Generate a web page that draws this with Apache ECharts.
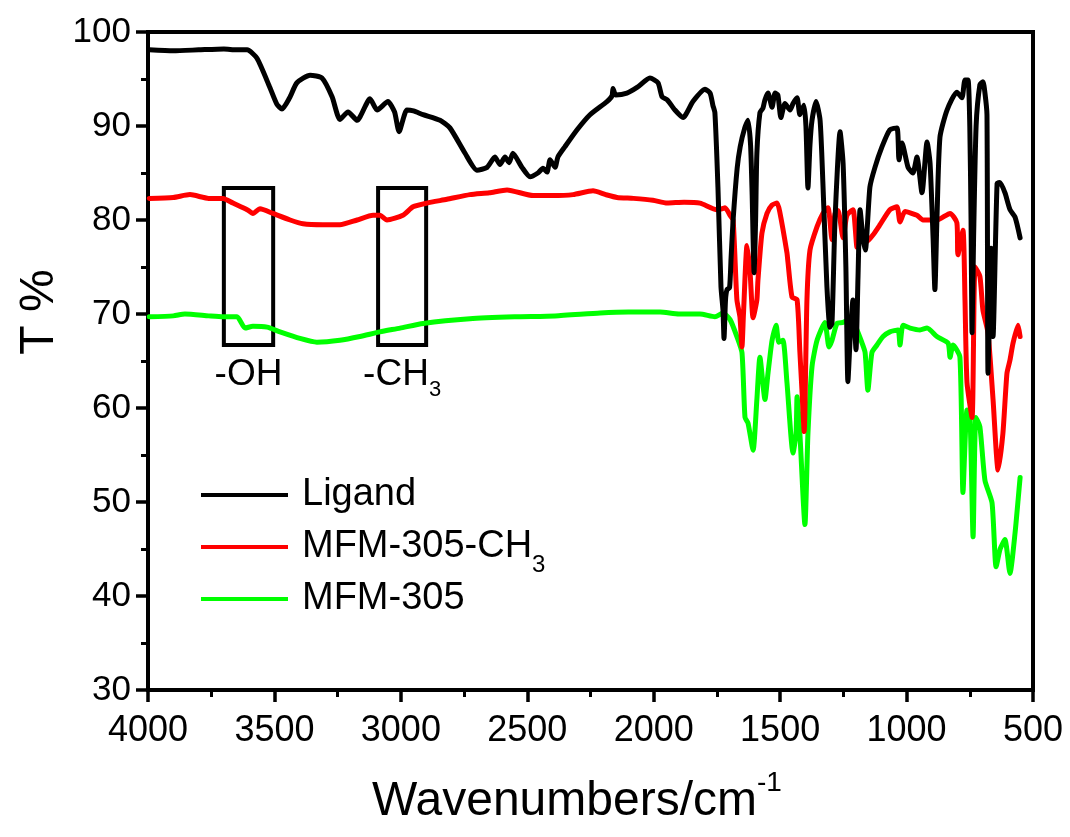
<!DOCTYPE html>
<html><head><meta charset="utf-8">
<script src="https://cdn.jsdelivr.net/npm/echarts@6/dist/echarts.min.js"></script>
<style>html,body{margin:0;padding:0;background:#fff}#c{width:1070px;height:837px}</style>
</head><body><div id="c"></div>
<script>
const seriesNames = ['Ligand', 'MFM-305-CH3', 'MFM-305'];
const ligandWn = [3995,3900,3800,3700,3650,3608,3569,3518,3490,3470,3440,3411,3359,3312,3272,3241,3209,3173,3122,3094,3051,3025,3007,2976,2950,2912,2845,2806,2746,2699,2659,2628,2608,2588,2572,2557,2521,2489,2458,2438,2422,2410,2390,2379,2351,2303,2252,2185,2165,2161,2150,2106,2066,2015,1983,1967,1947,1916,1884,1845,1797,1777,1766,1758,1746,1734,1726,1722,1716,1710,1700,1694,1686,1670,1658,1640,1627,1617,1611,1603,1597,1592,1580,1568,1560,1548,1532,1520,1509,1497,1481,1461,1449,1433,1422,1406,1398,1390,1382,1374,1358,1342,1331,1315,1303,1295,1283,1263,1251,1240,1232,1222,1212,1206,1200,1192,1184,1172,1163,1145,1125,1097,1066,1038,1030,1018,994,975,959,939,919,907,895,888,880,868,840,801,781,769,757,750,745,741,735,725,710,698,690,682,678,670,666,658,642,631,611,591,571,551];
const ligandT = [98.1,98.0,98.1,98.2,98.1,98.1,97.2,94.1,92.3,91.8,93.0,94.6,95.4,95.1,93.1,90.7,91.5,90.6,92.9,91.7,92.6,91.5,89.4,91.7,91.6,91.2,90.6,89.8,87.1,85.3,85.6,86.7,85.9,86.7,86.1,87.1,85.6,84.6,85.0,85.5,85.1,86.4,85.6,86.7,87.8,89.6,91.2,92.6,93.2,94.0,93.3,93.5,94.1,95.1,94.6,93.1,92.8,91.7,90.9,92.6,93.9,93.5,92.2,91.4,83.5,72.9,70.4,67.4,71.5,72.6,72.8,76.0,80.0,85.5,87.8,89.8,90.6,88.0,83.0,74.4,80.0,87.1,91.4,91.9,92.8,93.5,92.0,93.5,93.3,90.9,92.4,91.7,92.4,93.0,91.2,92.2,90.0,83.4,88.0,90.6,92.6,90.6,84.0,72.9,68.6,69.0,80.0,89.4,86.0,75.0,62.8,68.0,71.5,69.0,66.2,74.0,81.1,78.0,76.8,83.5,85.6,87.8,89.6,89.8,86.4,88.2,85.6,85.0,86.7,82.9,88.3,86.0,78.0,72.6,80.0,88.8,91.7,93.6,93.0,94.9,94.9,90.0,80.0,68.0,78.0,90.0,94.4,94.7,93.5,91.2,63.7,72.0,77.0,67.6,83.9,84.0,82.9,81.1,80.3,78.1];
const ch3Wn = [3995,3900,3834,3760,3703,3664,3608,3585,3557,3506,3438,3387,3308,3241,3173,3110,3083,3055,2992,2952,2897,2818,2727,2650,2580,2477,2400,2319,2240,2190,2145,2080,2003,1947,1880,1817,1750,1730,1718,1698,1686,1671,1659,1651,1645,1631,1619,1607,1592,1588,1572,1552,1532,1512,1501,1473,1469,1453,1433,1422,1414,1405,1394,1382,1354,1331,1311,1295,1283,1271,1251,1236,1212,1196,1184,1157,1133,1105,1066,1038,1026,1006,959,935,880,828,801,797,777,769,761,741,729,710,698,678,658,638,619,603,591,579,559,551];
const ch3T = [82.3,82.4,82.7,82.3,82.3,81.8,81.1,80.7,81.2,80.7,80.0,79.6,79.5,79.5,80.0,80.5,80.5,80.0,80.5,81.4,81.8,82.2,82.7,82.9,83.2,82.6,82.6,82.7,83.1,82.7,82.4,82.3,82.1,81.8,81.9,81.8,81.1,81.2,81.3,80.5,80.0,71.5,69.7,66.5,70.0,77.3,74.5,69.6,71.5,73.5,78.6,80.7,81.6,81.8,80.8,76.5,75.5,71.8,71.5,66.0,62.0,57.5,71.5,76.8,79.3,80.7,81.3,77.9,80.7,81.0,78.1,80.5,81.1,77.1,79.3,77.7,78.4,79.5,81.1,81.4,79.8,80.9,80.5,80.0,80.0,80.7,79.7,76.3,78.9,71.5,62.7,59.0,75.0,74.0,70.4,68.0,60.9,53.4,57.3,63.7,65.1,66.9,68.8,67.6];
const mfmWn = [3995,3900,3854,3760,3703,3648,3616,3585,3529,3478,3399,3332,3241,3162,3083,3003,2912,2727,2550,2390,2212,2100,1975,1900,1817,1758,1726,1698,1671,1651,1639,1627,1607,1592,1580,1560,1548,1532,1516,1505,1489,1473,1449,1437,1433,1422,1402,1390,1374,1354,1323,1307,1295,1275,1251,1216,1196,1176,1164,1153,1137,1117,1093,1066,1034,1026,1014,986,947,919,880,836,828,816,789,777,761,749,737,726,710,690,662,646,630,611,591,571,559,551];
const mfmT = [69.7,69.8,70.0,69.8,69.7,69.7,68.5,68.7,68.6,68.1,67.4,67.0,67.2,67.6,68.1,68.5,69.0,69.5,69.7,69.8,70.1,70.2,70.2,70.0,70.0,69.7,70.1,69.4,67.6,65.9,59.0,58.4,55.5,60.9,65.4,60.9,63.7,67.2,68.8,67.0,67.2,62.7,55.2,57.3,61.2,57.3,47.6,57.3,64.4,67.2,69.1,66.5,67.2,69.0,69.1,69.6,68.3,66.9,65.9,61.9,65.9,66.7,67.6,68.1,68.3,66.7,68.8,68.5,68.3,68.5,67.6,66.9,65.4,66.7,65.4,51.0,59.8,59.0,46.3,59.0,58.0,52.3,49.9,43.1,45.0,46.0,42.4,46.7,50.2,52.6];
// annotation boxes: [wn from, wn to, T top, T bottom]
const boxOH = [3700, 3505, 83.4, 66.7];
const boxCH3 = [3090, 2900, 83.4, 66.7];
const xRange = [500, 4000, 500];
const yRange = [30, 100, 10];

const FONT = "'Liberation Sans', Arial, sans-serif";
const zip = (a, b) => a.map((v, i) => [v, b[i]]);
const LW = 5;

const chart = echarts.init(document.getElementById('c'), null, {renderer: 'canvas'});

const legRich = {
  m: {fontFamily: FONT, fontSize: 38, color: '#000', lineHeight: 46, padding: [0, 0, 0, 9]},
  s: {fontFamily: FONT, fontSize: 24, color: '#000', lineHeight: 10, padding: [36, 0, 0, 0]}
};
const legFmt = n => n === 'MFM-305-CH3' ? '{m|MFM-305-CH}{s|3}' : '{m|' + n + '}';
function leg(name, top) {
  return {
    data: [name], left: 196, top: top, orient: 'horizontal',
    itemWidth: 87, itemHeight: 4, icon: 'rect', selectedMode: false,
    formatter: legFmt,
    textStyle: {fontFamily: FONT, fontSize: 38, color: '#000', rich: legRich}
  };
}

const annRich = {
  m: {fontFamily: FONT, fontSize: 37, color: '#000', lineHeight: 46},
  s: {fontFamily: FONT, fontSize: 22, color: '#000', lineHeight: 10, padding: [30, 0, 0, 0]}
};

function mkSeries(name, wn, t, color, z) {
  return {name: name, type: 'line', data: zip(wn, t), symbol: 'none', showSymbol: false, smooth: 0.2,
    lineStyle: {color: color, width: LW, cap: 'round', join: 'round'}, itemStyle: {color: color},
    emphasis: {disabled: true}, z: z};
}

const ligandSeries = mkSeries('Ligand', ligandWn, ligandT, '#000000', 4);
ligandSeries.markArea = {
  silent: true,
  itemStyle: {color: 'rgba(0,0,0,0)', borderColor: '#000', borderWidth: 4},
  label: {show: true, position: 'bottom', distance: 5, color: '#000', fontFamily: FONT, fontSize: 37, rich: annRich},
  data: [
    [{name: '-OH', xAxis: boxOH[0], yAxis: boxOH[2], label: {formatter: '{m|-OH}'}}, {xAxis: boxOH[1], yAxis: boxOH[3]}],
    [{name: '-CH3', xAxis: boxCH3[0], yAxis: boxCH3[2], label: {formatter: '{m|-CH}{s|3}'}}, {xAxis: boxCH3[1], yAxis: boxCH3[3]}]
  ]
};

const option = {
  backgroundColor: '#fff',
  animation: false,
  grid: {left: 148, right: 37, top: 32, bottom: 147, show: true, borderColor: '#000', borderWidth: 4, containLabel: false, outerBoundsMode: 'none'},
  legend: [leg('Ligand', 471), leg('MFM-305-CH3', 512), leg('MFM-305', 575)],
  xAxis: {
    type: 'value', inverse: true, min: xRange[0], max: xRange[1], interval: xRange[2],
    axisLine: {show: true, lineStyle: {color: '#000', width: 4}},
    axisTick: {show: true, inside: false, length: 12, lineStyle: {color: '#000', width: 3.5}},
    minorTick: {show: true, splitNumber: 2, length: 7, lineStyle: {color: '#000', width: 3}},
    splitLine: {show: false},
    axisLabel: {fontFamily: FONT, fontSize: 36, color: '#000', margin: 23, formatter: v => String(v)}
  },
  yAxis: {
    type: 'value', min: yRange[0], max: yRange[1], interval: yRange[2],
    axisLine: {show: true, lineStyle: {color: '#000', width: 4}},
    axisTick: {show: true, inside: false, length: 12, lineStyle: {color: '#000', width: 3.5}},
    minorTick: {show: true, splitNumber: 2, length: 7, lineStyle: {color: '#000', width: 3}},
    splitLine: {show: false},
    axisLabel: {fontFamily: FONT, fontSize: 35, color: '#000', margin: 17, formatter: v => String(v)}
  },
  graphic: [
    {type: 'text', x: 40, y: 312, rotation: Math.PI / 2,
     style: {text: 'T %', fontFamily: FONT, fontSize: 48, fill: '#000', align: 'center', verticalAlign: 'middle', textAlign: 'center', textVerticalAlign: 'middle'}},
    {type: 'text', x: 372, y: 802,
     style: {text: '{m|Wavenumbers/cm}{s|-1}', fill: '#000', align: 'left', verticalAlign: 'middle', textAlign: 'left', textVerticalAlign: 'middle',
       rich: {m: {fontFamily: FONT, fontSize: 48, lineHeight: 56, fill: '#000'}, s: {fontFamily: FONT, fontSize: 28, lineHeight: 10, padding: [0, 0, 38, 0], fill: '#000'}}}}
  ],
  series: [
    mkSeries('MFM-305', mfmWn, mfmT, '#00ff00', 2),
    mkSeries('MFM-305-CH3', ch3Wn, ch3T, '#ff0000', 3),
    ligandSeries
  ]
};
chart.setOption(option);
</script>
</body></html>
